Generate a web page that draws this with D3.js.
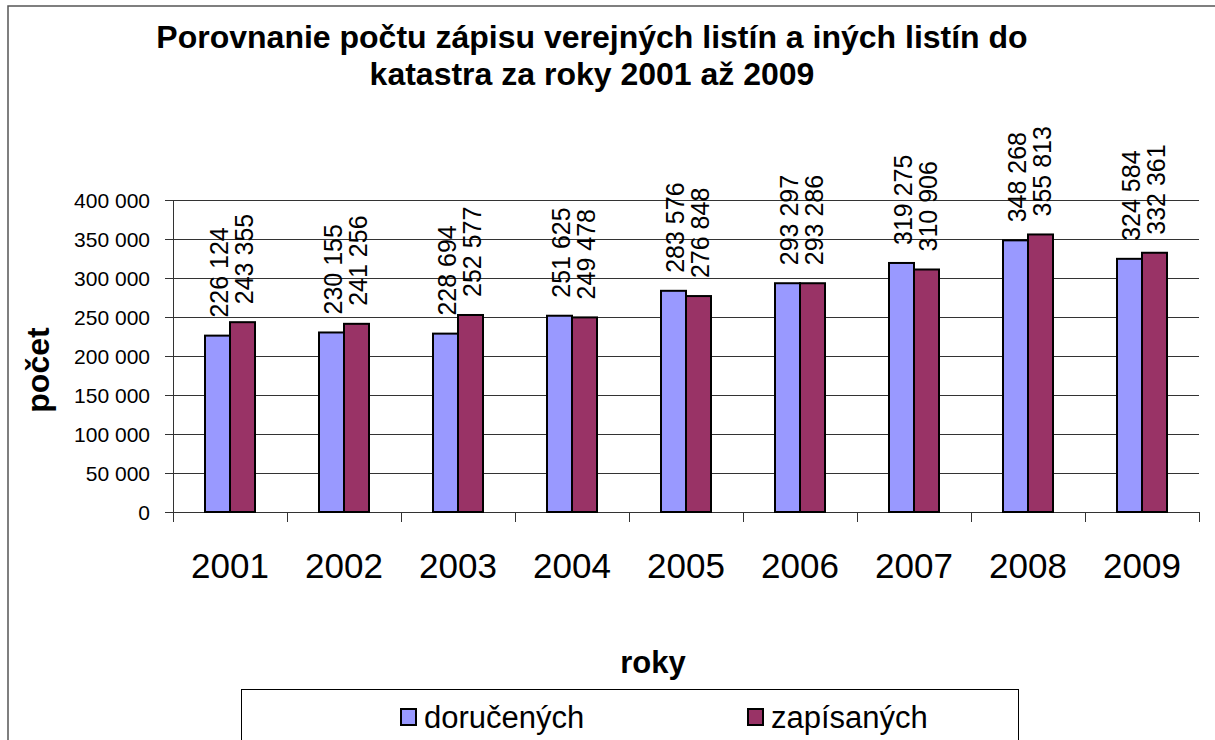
<!DOCTYPE html>
<html>
<head>
<meta charset="utf-8">
<script src="https://cdn.jsdelivr.net/npm/d3@7"></script>
<style>
  body { margin: 0; background: #fff; }
  text { font-family: "Liberation Sans", Arial, sans-serif; }
</style>
</head>
<body>
<div id="app"></div>
<script>
const width = 1215,
    height = 740;

const years = ["2001", "2002", "2003", "2004", "2005", "2006", "2007", "2008", "2009"];
const dorucenych = [226124, 230155, 228694, 251625, 283576, 293297, 319275, 348268, 324584];
const zapisanych = [243355, 241256, 252577, 249478, 276848, 293286, 310906, 355813, 332361];
const seriesNames = ["doručených", "zapísaných"];
const colors = ["#9999FF", "#993366"];
const yTicks = [0, 50000, 100000, 150000, 200000, 250000, 300000, 350000, 400000];

const titleLines = ["Porovnanie počtu zápisu verejných listín a iných listín do", "katastra za roky 2001 až 2009"];

const fmt = v => d3.format(",")(v).replace(/,/g, " ");

const svg = d3.select("#app")
    .append("svg")
    .attr("width", width)
    .attr("height", height);

// outer chart border (runs off the right and bottom of the picture)
svg.append("rect")
    .attr("x", 8).attr("y", 6)
    .attr("width", 1300).attr("height", 900)
    .attr("fill", "none")
    .attr("stroke", "#555")
    .attr("stroke-width", 1.5);

const x0 = d3.scaleBand().domain(years).range([173, 1199]);
const barW = 25;
const y = d3.scaleLinear().domain([0, 400000]).range([512, 200]);

// gridlines
svg.append("g").selectAll("line")
    .data(yTicks).enter()
    .append("line")
    .attr("x1", 165).attr("x2", 1199)
    .attr("y1", d => Math.round(y(d)) + 0.5)
    .attr("y2", d => Math.round(y(d)) + 0.5)
    .attr("stroke", "#333");

// y axis line
svg.append("line")
    .attr("x1", 173.5).attr("x2", 173.5)
    .attr("y1", 200).attr("y2", 522)
    .attr("stroke", "#333");

// category ticks below the zero line
svg.append("g").selectAll("line")
    .data(years.concat(["end"])).enter()
    .append("line")
    .attr("x1", (d, i) => Math.round(173 + i * x0.step()) + 0.5)
    .attr("x2", (d, i) => Math.round(173 + i * x0.step()) + 0.5)
    .attr("y1", 512).attr("y2", 522)
    .attr("stroke", "#333");

// y tick labels
svg.append("g").selectAll("text")
    .data(yTicks).enter()
    .append("text")
    .attr("x", 150)
    .attr("y", d => y(d))
    .attr("dy", "0.36em")
    .attr("text-anchor", "end")
    .attr("font-size", 21)
    .text(d => fmt(d));

// bars
const rows = years.map((yr, i) => [dorucenych[i], zapisanych[i]]);
const groups = svg.append("g").selectAll("g")
    .data(rows).enter()
    .append("g")
    .attr("transform", (d, i) => `translate(${x0(years[i]) + x0.bandwidth() / 2 - barW}, 0)`);

groups.selectAll("rect")
    .data(d => d).enter()
    .append("rect")
    .attr("x", (d, j) => j * barW)
    .attr("y", d => y(d))
    .attr("width", barW)
    .attr("height", d => y(0) - y(d))
    .attr("fill", (d, j) => colors[j])
    .attr("stroke", "#000")
    .attr("stroke-width", 2);

// rotated value labels
groups.selectAll("text")
    .data(d => d).enter()
    .append("text")
    .attr("transform", (d, j) => `translate(${j * barW + barW / 2 + 10}, ${y(d) - 18}) rotate(-90)`)
    .attr("font-size", 25)
    .text(d => fmt(d));

// x labels
svg.append("g").selectAll("text")
    .data(years).enter()
    .append("text")
    .attr("x", d => x0(d) + x0.bandwidth() / 2)
    .attr("y", 578)
    .attr("text-anchor", "middle")
    .attr("font-size", 35)
    .text(d => d);

// title
svg.append("g").selectAll("text")
    .data(titleLines).enter()
    .append("text")
    .attr("x", 592)
    .attr("y", (d, i) => 48 + i * 37)
    .attr("text-anchor", "middle")
    .attr("font-size", 32)
    .attr("font-weight", "bold")
    .text(d => d);

// axis titles
svg.append("text")
    .attr("x", 653).attr("y", 673)
    .attr("text-anchor", "middle")
    .attr("font-size", 31)
    .attr("font-weight", "bold")
    .text("roky");

svg.append("text")
    .attr("transform", "translate(49, 370) rotate(-90)")
    .attr("text-anchor", "middle")
    .attr("font-size", 32)
    .attr("font-weight", "bold")
    .text("počet");

// legend
svg.append("rect")
    .attr("x", 241.5).attr("y", 689.5)
    .attr("width", 777).attr("height", 100)
    .attr("fill", "#fff")
    .attr("stroke", "#000");

const legendX = [400, 747];
const legend = svg.append("g").selectAll("g")
    .data(seriesNames).enter()
    .append("g")
    .attr("transform", (d, i) => `translate(${legendX[i]}, 708)`);

legend.append("rect")
    .attr("x", 1).attr("y", 1)
    .attr("width", 15).attr("height", 16)
    .attr("fill", (d, i) => colors[i])
    .attr("stroke", "#000")
    .attr("stroke-width", 2);

legend.append("text")
    .attr("x", 24).attr("y", 20)
    .attr("font-size", 31)
    .text(d => d);
</script>
</body>
</html>
